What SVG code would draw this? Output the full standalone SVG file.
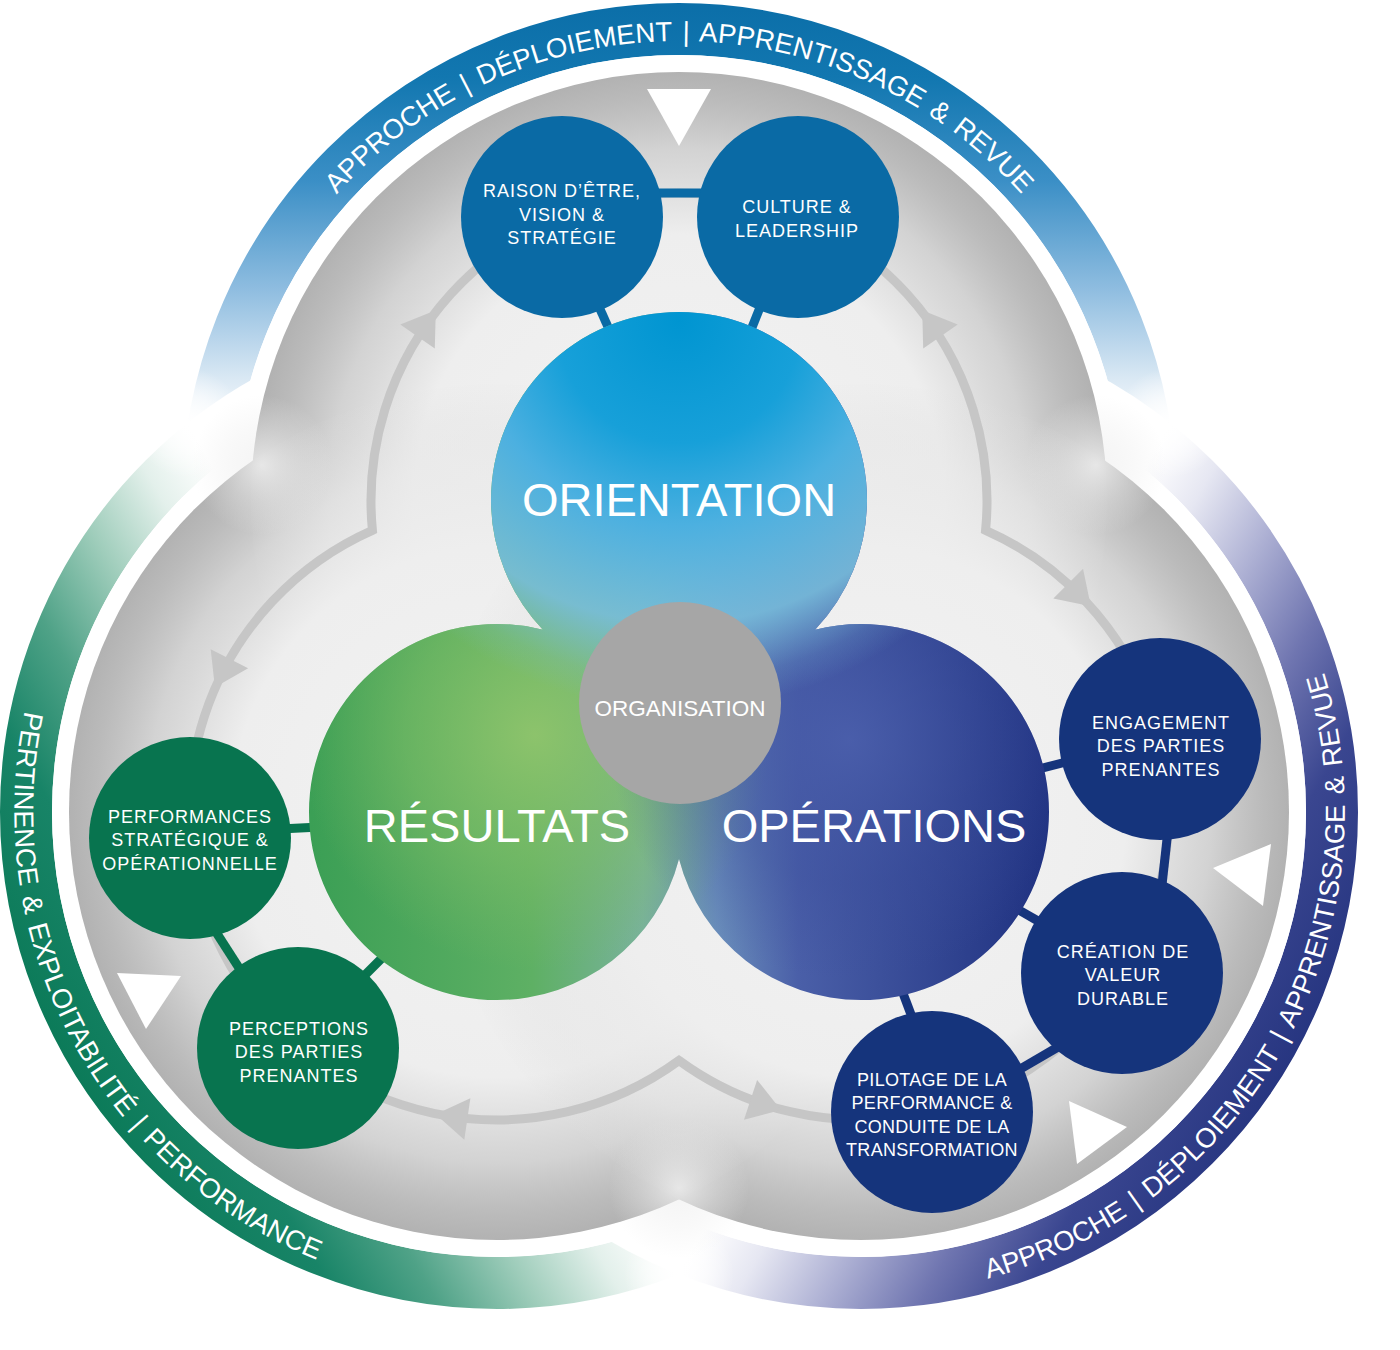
<svg xmlns="http://www.w3.org/2000/svg" xmlns:xlink="http://www.w3.org/1999/xlink" width="1400" height="1350" viewBox="0 0 1400 1350">
<style>
.lbl{font-family:'Liberation Sans',Arial,sans-serif;fill:#ffffff;text-anchor:middle}
.sat{font-size:18px;letter-spacing:1px}
.satn{font-size:18px;letter-spacing:1px}
.pil{font-size:18px;letter-spacing:0.3px}
.big{font-size:47px}
.ring{font-family:'Liberation Sans',Arial,sans-serif;font-size:27.5px;word-spacing:3px;fill:#ffffff}
.bar{stroke-width:9;fill:none}
.blue{fill:#0a6aa5}
.navy{fill:#15347c}
.green{fill:#08744f}
</style>
<defs>
<linearGradient id="bandTop" gradientUnits="userSpaceOnUse" x1="679" y1="432" x2="679" y2="0">
<stop offset="0" stop-color="#ffffff"/>
<stop offset="0.12" stop-color="#dbe9f4"/>
<stop offset="0.33" stop-color="#8fbde0"/>
<stop offset="0.58" stop-color="#3b8fc6"/>
<stop offset="0.82" stop-color="#1277b0"/>
<stop offset="1" stop-color="#0b6ea8"/>
</linearGradient>
<linearGradient id="bandLeft" gradientUnits="userSpaceOnUse" x1="433" y1="848" x2="61" y2="1063">
<stop offset="0" stop-color="#ffffff"/>
<stop offset="0.14" stop-color="#e3f0eb"/>
<stop offset="0.32" stop-color="#9fcdbb"/>
<stop offset="0.52" stop-color="#4fa287"/>
<stop offset="0.72" stop-color="#188467"/>
<stop offset="1" stop-color="#0b7a58"/>
</linearGradient>
<linearGradient id="bandRight" gradientUnits="userSpaceOnUse" x1="925" y1="848" x2="1297" y2="1063">
<stop offset="0" stop-color="#ffffff"/>
<stop offset="0.14" stop-color="#e6e7f2"/>
<stop offset="0.32" stop-color="#aeb1d4"/>
<stop offset="0.52" stop-color="#6f75b0"/>
<stop offset="0.72" stop-color="#3a4690"/>
<stop offset="1" stop-color="#263580"/>
</linearGradient>
<radialGradient id="lobeG" cx="0.5" cy="0.5" r="0.5">
<stop offset="0" stop-color="#f3f3f3" stop-opacity="1"/>
<stop offset="0.62" stop-color="#eeeeee" stop-opacity="1"/>
<stop offset="0.82" stop-color="#e8e8e8" stop-opacity="0.62"/>
<stop offset="0.94" stop-color="#e0e0e0" stop-opacity="0.22"/>
<stop offset="1" stop-color="#e0e0e0" stop-opacity="0.04"/>
</radialGradient>
<radialGradient id="glow" cx="0.5" cy="0.5" r="0.5">
<stop offset="0" stop-color="#f2f2f2" stop-opacity="0.8"/>
<stop offset="0.55" stop-color="#eeeeee" stop-opacity="0.35"/>
<stop offset="1" stop-color="#eeeeee" stop-opacity="0"/>
</radialGradient>
<radialGradient id="flare" cx="0.5" cy="0.5" r="0.5">
<stop offset="0" stop-color="#ffffff" stop-opacity="1"/>
<stop offset="0.5" stop-color="#ffffff" stop-opacity="0.6"/>
<stop offset="1" stop-color="#ffffff" stop-opacity="0"/>
</radialGradient>
<linearGradient id="blobBase" gradientUnits="userSpaceOnUse" x1="310" y1="0" x2="1050" y2="0">
<stop offset="0" stop-color="#3b9f55"/>
<stop offset="0.3" stop-color="#5eb064"/>
<stop offset="0.45" stop-color="#79b29c"/>
<stop offset="0.55" stop-color="#6a8ebb"/>
<stop offset="0.66" stop-color="#4a5fa8"/>
<stop offset="1" stop-color="#1f3180"/>
</linearGradient>
<radialGradient id="greenGlow" gradientUnits="userSpaceOnUse" cx="535" cy="735" r="235">
<stop offset="0" stop-color="#8fc46c" stop-opacity="0.95"/>
<stop offset="0.55" stop-color="#7fbe66" stop-opacity="0.55"/>
<stop offset="1" stop-color="#7ab863" stop-opacity="0"/>
</radialGradient>
<radialGradient id="navyGlow" gradientUnits="userSpaceOnUse" cx="850" cy="740" r="240">
<stop offset="0" stop-color="#4b5fac" stop-opacity="0.85"/>
<stop offset="0.6" stop-color="#3c4f9e" stop-opacity="0.4"/>
<stop offset="1" stop-color="#3c4f9e" stop-opacity="0"/>
</radialGradient>
<radialGradient id="blueGlow" gradientUnits="userSpaceOnUse" cx="679" cy="320" r="410">
<stop offset="0" stop-color="#0095d1"/>
<stop offset="0.3" stop-color="#17a0d9"/>
<stop offset="0.5" stop-color="#4cb0e0"/>
<stop offset="0.74" stop-color="#78bddb" stop-opacity="0.9"/>
<stop offset="0.88" stop-color="#7bbddb" stop-opacity="0.2"/>
<stop offset="0.95" stop-color="#7bbddb" stop-opacity="0"/>
</radialGradient>
<clipPath id="blobClip">
<circle cx="679" cy="500" r="188"/>
<circle cx="497" cy="812" r="188"/>
<circle cx="861" cy="812" r="188"/>
<polygon points="543,630 815,630 679,859"/>
</clipPath>
<path id="ringTop" d="M 220 500 A 459 459 0 0 1 1138 500"/>
<path id="ringLeft" d="M 255.5 393.7 A 483 483 0 0 0 708.7 1246.1"/>
<path id="ringRight" d="M 641.7 1242.4 A 483 483 0 0 0 1109.8 398"/>
<polygon id="arrowHead" points="17,0 -15,-21 -15,21" fill="#c6c6c6"/>
</defs>

<rect x="0" y="0" width="1400" height="1350" fill="#ffffff"/>

<g id="outer-bands">
<circle cx="679" cy="500" r="471" fill="none" stroke="url(#bandTop)" stroke-width="52"/>
<circle cx="497" cy="812" r="471" fill="none" stroke="url(#bandLeft)" stroke-width="52"/>
<circle cx="861" cy="812" r="471" fill="none" stroke="url(#bandRight)" stroke-width="52"/>
<circle cx="188" cy="423" r="55" fill="url(#flare)"/>
<circle cx="1170" cy="423" r="55" fill="url(#flare)"/>
<circle cx="679" cy="1274" r="55" fill="url(#flare)"/>
<circle cx="679" cy="500" r="445" fill="#ffffff"/>
<circle cx="497" cy="812" r="445" fill="#ffffff"/>
<circle cx="861" cy="812" r="445" fill="#ffffff"/>
</g>

<g id="gray-lobes">
<circle cx="679" cy="500" r="428" fill="#b0b0b0"/>
<circle cx="497" cy="812" r="428" fill="#b0b0b0"/>
<circle cx="861" cy="812" r="428" fill="#b0b0b0"/>
<circle cx="679" cy="500" r="428" fill="url(#lobeG)"/>
<circle cx="497" cy="812" r="428" fill="url(#lobeG)"/>
<circle cx="861" cy="812" r="428" fill="url(#lobeG)"/>
<circle cx="262" cy="465" r="70" fill="url(#glow)"/>
<circle cx="1096" cy="465" r="70" fill="url(#glow)"/>
<circle cx="679" cy="1188" r="70" fill="url(#glow)"/>
</g>

<g id="ring-labels">
<text class="ring"><textPath href="#ringTop" startOffset="50%" text-anchor="middle">APPROCHE | DÉPLOIEMENT | APPRENTISSAGE &amp; REVUE</textPath></text>
<text class="ring"><textPath href="#ringLeft" startOffset="50%" text-anchor="middle">PERTINENCE &amp; EXPLOITABILITÉ | PERFORMANCE</textPath></text>
<text class="ring"><textPath href="#ringRight" startOffset="50%" text-anchor="middle">APPROCHE | DÉPLOIEMENT | APPRENTISSAGE &amp; REVUE</textPath></text>
</g>

<g id="cycle-triangles" fill="#ffffff">
<polygon points="647,89 711,89 679,146"/>
<polygon points="117,973 181,976 146,1029"/>
<polygon points="1213,868 1271,844 1263,906"/>
<polygon points="1069,1101 1127,1127 1077,1164"/>
</g>

<g id="connectors">
<path d="M 372.4 530.3 A 308 308 0 1 1 985.6 530.3 A 308 308 0 1 1 679 1060.5 A 308 308 0 1 1 372.4 530.3 Z" fill="none" stroke="#c6c6c6" stroke-width="9" stroke-linejoin="miter"/>
<use href="#arrowHead" transform="translate(426.1 324.2) rotate(-55.2)"/>
<use href="#arrowHead" transform="translate(931.9 324.2) rotate(-124.8)"/>
<use href="#arrowHead" transform="translate(222.6 672.2) rotate(117)"/>
<use href="#arrowHead" transform="translate(452.5 1116.8) rotate(188.3)"/>
<use href="#arrowHead" transform="translate(764.8 1104.6) rotate(18.2)"/>
<use href="#arrowHead" transform="translate(1078.8 594.2) rotate(45)"/>
<g class="bar" stroke="#0a6aa5">
<line x1="650" y1="193" x2="710" y2="193"/>
<line x1="596" y1="300" x2="616" y2="345"/>
<line x1="763" y1="300" x2="745" y2="345"/>
</g>
<g class="bar" stroke="#15347c">
<line x1="1070" y1="761" x2="1035" y2="770"/>
<line x1="1168" y1="830" x2="1162" y2="885"/>
<line x1="1010" y1="905" x2="1045" y2="925"/>
<line x1="1015" y1="1072" x2="1070" y2="1040"/>
<line x1="898" y1="980" x2="915" y2="1025"/>
</g>
<g class="bar" stroke="#08744f">
<line x1="280" y1="829" x2="320" y2="827"/>
<line x1="205" y1="915" x2="250" y2="985"/>
<line x1="350" y1="990" x2="395" y2="945"/>
</g>
</g>

<g id="core-blob" clip-path="url(#blobClip)">
<rect x="300" y="300" width="760" height="720" fill="url(#blobBase)"/>
<circle cx="535" cy="735" r="235" fill="url(#greenGlow)"/>
<circle cx="850" cy="740" r="240" fill="url(#navyGlow)"/>
<circle cx="679" cy="320" r="410" fill="url(#blueGlow)"/>
</g>

<g id="node-orientation">
<text class="lbl big" x="679" y="516">ORIENTATION</text>
</g>
<g id="node-resultats">
<text class="lbl big" x="497" y="842">RÉSULTATS</text>
</g>
<g id="node-operations">
<text class="lbl big" x="874" y="842">OPÉRATIONS</text>
</g>

<g id="node-organisation">
<circle cx="680" cy="703" r="101" fill="#a6a6a6"/>
<text class="lbl" x="680" y="716" font-size="22.5">ORGANISATION</text>
</g>

<g id="node-raison">
<circle class="blue" cx="562" cy="217" r="101"/>
<text class="lbl satn" x="562" y="197">RAISON D’ÊTRE,<tspan x="562" dy="23.5">VISION &amp;</tspan><tspan x="562" dy="23.5">STRATÉGIE</tspan></text>
</g>
<g id="node-culture">
<circle class="blue" cx="798" cy="217" r="101"/>
<text class="lbl satn" x="797" y="213">CULTURE &amp;<tspan x="797" dy="23.5">LEADERSHIP</tspan></text>
</g>

<g id="node-engagement">
<circle class="navy" cx="1160" cy="739" r="101"/>
<text class="lbl sat" x="1161" y="728.5">ENGAGEMENT<tspan x="1161" dy="23.5">DES PARTIES</tspan><tspan x="1161" dy="23.5">PRENANTES</tspan></text>
</g>
<g id="node-creation">
<circle class="navy" cx="1122" cy="973" r="101"/>
<text class="lbl sat" x="1123" y="957.5">CRÉATION DE<tspan x="1123" dy="23.5">VALEUR</tspan><tspan x="1123" dy="23.5">DURABLE</tspan></text>
</g>
<g id="node-pilotage">
<circle class="navy" cx="932" cy="1112" r="101"/>
<text class="lbl pil" x="932" y="1085.5">PILOTAGE DE LA<tspan x="932" dy="23.5">PERFORMANCE &amp;</tspan><tspan x="932" dy="23.5">CONDUITE DE LA</tspan><tspan x="932" dy="23.5">TRANSFORMATION</tspan></text>
</g>

<g id="node-performances">
<circle class="green" cx="190" cy="838" r="101"/>
<text class="lbl sat" x="190" y="822.5">PERFORMANCES<tspan x="190" dy="23.5">STRATÉGIQUE &amp;</tspan><tspan x="190" dy="23.5">OPÉRATIONNELLE</tspan></text>
</g>
<g id="node-perceptions">
<circle class="green" cx="298" cy="1048" r="101"/>
<text class="lbl sat" x="299" y="1034.5">PERCEPTIONS<tspan x="299" dy="23.5">DES PARTIES</tspan><tspan x="299" dy="23.5">PRENANTES</tspan></text>
</g>
</svg>
